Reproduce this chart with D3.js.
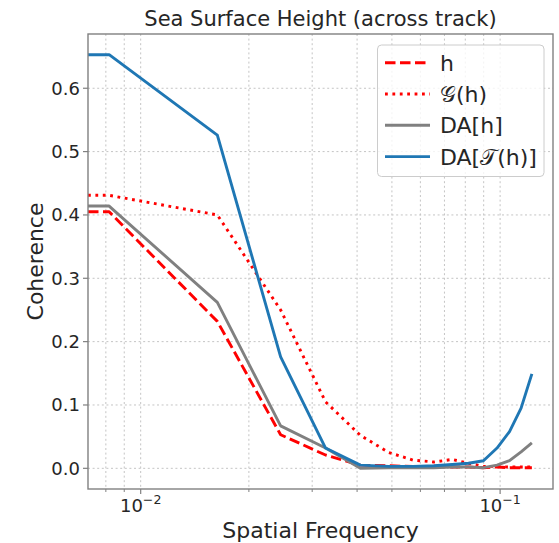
<!DOCTYPE html>
<html><head><meta charset="utf-8">
<script src="https://cdn.jsdelivr.net/npm/d3@7"></script>
<style>
body{margin:0;background:#fff}
svg{display:block}
text{font-family:"DejaVu Sans","Noto Sans",sans-serif;fill:#262626}
</style>
</head><body>
<svg id="chart" width="559" height="543"></svg>
<script>
// ---- data ----
const frequency = [0, 0.00817, 0.01634, 0.02451, 0.03268, 0.04085, 0.04902, 0.05719, 0.06536, 0.07353, 0.0817, 0.08987, 0.09804, 0.10621, 0.11438, 0.12255];
const hCoherence      = [0.405, 0.405, 0.232, 0.053, 0.021, 0.005, 0.004, 0.003, 0.003, 0.002, 0.002, 0.001, 0.002, 0.001, 0.001, 0.001];
const gCoherence      = [0.431, 0.431, 0.400, 0.250, 0.105, 0.052, 0.025, 0.013, 0.010, 0.014, 0.008, 0.003, 0.003, 0.002, 0.002, 0.002];
const daHCoherence    = [0.414, 0.414, 0.262, 0.067, 0.032, 0.000, 0.001, 0.001, 0.001, 0.002, 0.002, 0.001, 0.005, 0.012, 0.026, 0.040];
const daTHCoherence   = [0.653, 0.653, 0.526, 0.176, 0.032, 0.005, 0.003, 0.003, 0.004, 0.006, 0.008, 0.012, 0.032, 0.058, 0.095, 0.149];
const seriesLabels = ["h", "\u{1D4A2}(h)", "DA[h]", "DA[\u{1D4AF}(h)]"];
const yTickValues = [0.0, 0.1, 0.2, 0.3, 0.4, 0.5, 0.6];
const xMajorTicks = [0.01, 0.1];
const xMajorLabels = [["10", "\u22122"], ["10", "\u22121"]];
const xMinorTicks = [0.008, 0.009, 0.02, 0.03, 0.04, 0.05, 0.06, 0.07, 0.08, 0.09];
const titleText = "Sea Surface Height (across track)";
const xLabelText = "Spatial Frequency";
const yLabelText = "Coherence";

// ---- styles ----
const seriesValues = [hCoherence, gCoherence, daHCoherence, daTHCoherence];
const seriesStyle = [
  {color: "#ff0000", dash: "10.5,4.5"},
  {color: "#ff0000", dash: "2.8,4.6"},
  {color: "#808080", dash: null},
  {color: "#1f77b4", dash: null}
];

const W = 559, H = 543;
const plot = {left: 88, right: 553, top: 34, bottom: 489};
const svg = d3.select("#chart");

// matplotlib-like autoscale with 5% margins (log space for x)
const posF = frequency.filter(f => f > 0);
const lx0 = Math.log10(d3.min(posF)), lx1 = Math.log10(d3.max(posF));
const mx = 0.05 * (lx1 - lx0);
const x = d3.scaleLog().domain([10 ** (lx0 - mx), 10 ** (lx1 + mx)]).range([plot.left, plot.right]).clamp(true);
const allY = seriesValues.flat();
const y0 = d3.min(allY), y1 = d3.max(allY), my = 0.05 * (y1 - y0);
const y = d3.scaleLinear().domain([y0 - my, y1 + my]).range([plot.bottom, plot.top]);

// grid
const grid = svg.append("g").attr("stroke", "#c4c4c4").attr("stroke-width", 1).attr("stroke-dasharray", "2,2.6");
xMajorTicks.concat(xMinorTicks).forEach(t => {
  grid.append("line").attr("x1", x(t)).attr("x2", x(t)).attr("y1", plot.top).attr("y2", plot.bottom);
});
yTickValues.forEach(t => {
  grid.append("line").attr("x1", plot.left).attr("x2", plot.right).attr("y1", y(t)).attr("y2", y(t));
});

// clip
svg.append("clipPath").attr("id", "clip").append("rect")
  .attr("x", plot.left).attr("y", plot.top).attr("width", plot.right - plot.left).attr("height", plot.bottom - plot.top);

// lines
const lineGen = d3.line().x(d => x(d[0])).y(d => y(d[1]));
const lines = svg.append("g").attr("clip-path", "url(#clip)");
seriesValues.forEach((vals, i) => {
  const pts = frequency.map((f, j) => [f, vals[j]]);
  lines.append("path").attr("d", lineGen(pts))
    .attr("fill", "none").attr("stroke", seriesStyle[i].color).attr("stroke-width", 2.9)
    .attr("stroke-linejoin", "round").attr("stroke-linecap", "butt")
    .attr("stroke-dasharray", seriesStyle[i].dash);
});

// spines
svg.append("rect").attr("x", plot.left).attr("y", plot.top)
  .attr("width", plot.right - plot.left).attr("height", plot.bottom - plot.top)
  .attr("fill", "none").attr("stroke", "#808080").attr("stroke-width", 1.4);

// y ticks
const yAxis = svg.append("g");
yTickValues.forEach(t => {
  yAxis.append("line").attr("x1", plot.left - 5).attr("x2", plot.left).attr("y1", y(t)).attr("y2", y(t))
    .attr("stroke", "#808080").attr("stroke-width", 1.2);
  yAxis.append("text").attr("x", plot.left - 8).attr("y", y(t)).attr("dy", "0.36em")
    .attr("text-anchor", "end").attr("font-size", 18).text(d3.format(".1f")(t));
});

// x ticks
const xAxis = svg.append("g");
xMinorTicks.forEach(t => {
  xAxis.append("line").attr("x1", x(t)).attr("x2", x(t)).attr("y1", plot.bottom).attr("y2", plot.bottom + 3)
    .attr("stroke", "#808080").attr("stroke-width", 1);
});
xMajorTicks.forEach((t, i) => {
  xAxis.append("line").attr("x1", x(t)).attr("x2", x(t)).attr("y1", plot.bottom).attr("y2", plot.bottom + 5)
    .attr("stroke", "#808080").attr("stroke-width", 1.2);
  const tx = xAxis.append("text").attr("x", x(t)).attr("y", 512).attr("text-anchor", "middle").attr("font-size", 18);
  tx.append("tspan").text(xMajorLabels[i][0]);
  tx.append("tspan").attr("dy", -8).attr("font-size", 12.6).text(xMajorLabels[i][1]);
});

// labels
svg.append("text").attr("x", (plot.left + plot.right) / 2).attr("y", 538)
  .attr("text-anchor", "middle").attr("font-size", 22).text(xLabelText);
svg.append("text").attr("transform", `translate(43,${(plot.top + plot.bottom) / 2}) rotate(-90)`)
  .attr("text-anchor", "middle").attr("font-size", 22).text(yLabelText);
svg.append("text").attr("x", (plot.left + plot.right) / 2).attr("y", 26)
  .attr("text-anchor", "middle").attr("font-size", 21).text(titleText);

// legend
const lg = svg.append("g");
lg.append("rect").attr("x", 377.5).attr("y", 45).attr("width", 166.5).attr("height", 131.5).attr("rx", 4)
  .attr("fill", "#ffffff").attr("fill-opacity", 0.8).attr("stroke", "#cccccc").attr("stroke-width", 1);
seriesLabels.forEach((lab, i) => {
  const ly = 62.7 + i * 31.3;
  lg.append("line").attr("x1", 385).attr("x2", 430).attr("y1", ly).attr("y2", ly)
    .attr("stroke", seriesStyle[i].color).attr("stroke-width", 2.9).attr("stroke-dasharray", seriesStyle[i].dash);
  lg.append("text").attr("x", 440).attr("y", ly).attr("dy", "0.36em").attr("font-size", 22).text(lab);
});
</script>
</body></html>
